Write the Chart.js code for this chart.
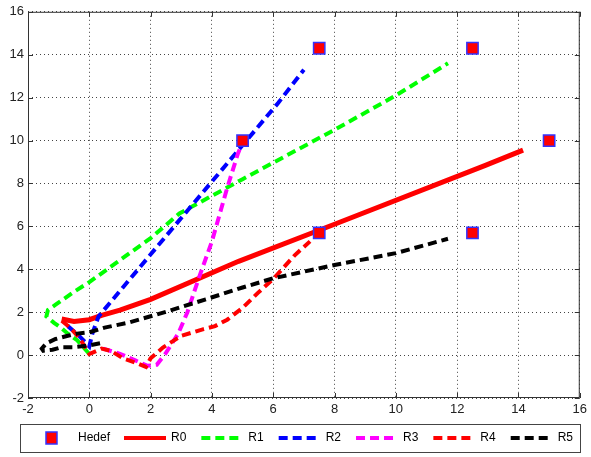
<!DOCTYPE html>
<html>
<head>
<meta charset="utf-8">
<script src="https://cdn.jsdelivr.net/npm/chart.js@4.4.1/dist/chart.umd.min.js"></script>
<style>
  html, body { margin: 0; padding: 0; background: #fff; }
</style>
</head>
<body>
<canvas id="chart" width="591" height="457"></canvas>
<script>
// axis ticks
const xTicks = [-2, 0, 2, 4, 6, 8, 10, 12, 14, 16];
const yTicks = [-2, 0, 2, 4, 6, 8, 10, 12, 14, 16];

// target points (Hedef)
const hedefX = [5, 7.5, 12.5, 7.5, 12.5, 15];
const hedefY = [10, 14.3, 14.3, 5.7, 5.7, 10];

// robot paths
const r0X = [-0.9, -0.5, 0, 0.4, 1, 2, 4.87, 8, 12.9, 14.15];
const r0Y = [1.68, 1.57, 1.65, 1.85, 2.1, 2.6, 4.37, 6.1, 8.83, 9.55];

const r1X = [0, -0.4, -0.7, -0.9, -1.15, -1.4, -1.35, -1.1, -0.5, 0, 2, 2.94, 5, 8, 10, 11.7];
const r1Y = [0.05, 0.7, 1.0, 1.25, 1.5, 1.8, 2.1, 2.35, 2.95, 3.4, 5.45, 6.6, 8.2, 10.5, 12.1, 13.6];

const r2X = [-0.7, -0.3, 0, 0.1, 0.3, 2.94, 6.16, 7.0];
const r2Y = [1.35, 0.85, 0.4, 1.0, 1.8, 6.29, 11.75, 13.3];

const r3X = [0.45, 1.0, 1.5, 1.9, 2.2, 2.5, 2.9, 3.2, 3.6, 4.0, 4.5, 4.85, 5.0];
const r3Y = [0.3, 0.06, -0.25, -0.5, -0.45, 0.1, 1.0, 2.0, 3.7, 5.3, 7.8, 9.4, 9.9];

const r4X = [-0.9, -0.6, -0.3, 0, 0.4, 0.7, 1.1, 1.6, 1.85, 2.0, 2.4, 3.0, 3.7, 4.1, 4.5, 5.0, 5.5, 6.0, 6.7, 7.2];
const r4Y = [1.6, 1.25, 0.75, 0.05, 0.3, 0.2, -0.15, -0.4, -0.55, -0.15, 0.35, 0.9, 1.2, 1.35, 1.65, 2.2, 2.9, 3.55, 4.65, 5.3];

const r5X = [0.35, 0, -0.5, -0.9, -1.2, -1.5, -1.55, -1.4, -1.1, -0.7, -0.4, 0, 0.5, 1.3, 2.6, 3.8, 5.0, 6.0, 8.0, 10, 11.7];
const r5Y = [0.55, 0.45, 0.37, 0.37, 0.25, 0.2, 0.3, 0.55, 0.75, 0.9, 1.0, 1.06, 1.28, 1.52, 2.06, 2.6, 3.15, 3.58, 4.2, 4.75, 5.42];

const pts = (xs, ys) => xs.map((x, i) => ({ x: x, y: ys[i] }));
const dash = [9, 5];

function path(label, xs, ys, color, dashed, order) {
  return {
    label: label,
    data: pts(xs, ys),
    showLine: true,
    borderColor: color,
    backgroundColor: color,
    borderWidth: dashed ? 4 : 5,
    borderDash: dashed ? dash : [],
    pointRadius: 0,
    tension: 0,
    order: order
  };
}

const datasets = [
  {
    label: 'Hedef',
    data: pts(hedefX, hedefY),
    showLine: false,
    pointStyle: 'rect',
    pointRadius: 8,
    backgroundColor: '#ff0000',
    borderColor: '#3333ff',
    borderWidth: 1.5,
    order: 0
  },
  path('R0', r0X, r0Y, '#ff0000', false, 6),
  path('R1', r1X, r1Y, '#00ff00', true, 5),
  path('R2', r2X, r2Y, '#0000ff', true, 4),
  path('R3', r3X, r3Y, '#ff00ff', true, 3),
  path('R4', r4X, r4Y, '#ff0000', true, 2),
  path('R5', r5X, r5Y, '#000000', true, 1)
];

const FAMILY = '"Liberation Sans", Arial, sans-serif';

// frame, inward tick marks and the boxed legend (matlab style)
const framePlugin = {
  id: 'frame',
  afterDraw(chart) {
    const ctx = chart.ctx;
    const a = chart.chartArea;
    const xs = chart.scales.x, ys = chart.scales.y;
    ctx.save();
    ctx.strokeStyle = '#333';
    ctx.lineWidth = 1;
    ctx.setLineDash([]);
    ctx.strokeRect(a.left + 0.5, a.top + 0.5, a.right - a.left - 1, a.bottom - a.top - 1);
    ctx.beginPath();
    xTicks.forEach(v => {
      const px = Math.round(xs.getPixelForValue(v)) + 0.5;
      ctx.moveTo(px, a.bottom); ctx.lineTo(px, a.bottom - 5);
      ctx.moveTo(px, a.top); ctx.lineTo(px, a.top + 5);
    });
    yTicks.forEach(v => {
      const py = Math.round(ys.getPixelForValue(v)) + 0.5;
      ctx.moveTo(a.left, py); ctx.lineTo(a.left + 5, py);
      ctx.moveTo(a.right, py); ctx.lineTo(a.right - 5, py);
    });
    ctx.stroke();

    // legend
    const top = 424, bottom = 452, mid = (top + bottom) / 2;
    ctx.fillStyle = '#fff';
    ctx.fillRect(20, top, 560, bottom - top);
    ctx.strokeStyle = '#444';
    ctx.strokeRect(20.5, top + 0.5, 560, bottom - top);
    ctx.font = '12px ' + FAMILY;
    ctx.textBaseline = 'middle';

    const h = chart.data.datasets[0];
    ctx.fillStyle = h.backgroundColor;
    ctx.fillRect(46, mid - 6, 11, 12);
    ctx.strokeStyle = h.borderColor;
    ctx.lineWidth = 1.5;
    ctx.strokeRect(46, mid - 6, 11, 12);
    ctx.fillStyle = '#000';
    ctx.fillText(h.label, 78, mid);

    let x = 124;
    chart.data.datasets.slice(1).forEach(d => {
      ctx.beginPath();
      ctx.strokeStyle = d.borderColor;
      ctx.lineWidth = 4;
      ctx.setLineDash(d.borderDash);
      ctx.moveTo(x, mid); ctx.lineTo(x + 42, mid);
      ctx.stroke();
      ctx.setLineDash([]);
      ctx.fillStyle = '#000';
      ctx.fillText(d.label, x + 47, mid);
      x += 47 + ctx.measureText(d.label).width + 15;
    });
    ctx.restore();
  }
};

new Chart(document.getElementById('chart'), {
  type: 'scatter',
  data: { datasets: datasets },
  options: {
    responsive: false,
    animation: false,
    layout: { padding: { top: 9, right: 5, left: 0, bottom: 0 } },
    plugins: {
      legend: { display: false },
      tooltip: { enabled: false },
      title: { display: false }
    },
    scales: {
      x: {
        type: 'linear',
        min: -2, max: 16,
        afterBuildTicks: s => { s.ticks = xTicks.map(v => ({ value: v })); },
        afterFit: s => { s.height = 59; },
        grid: { color: '#444', drawTicks: false },
        border: { display: false, dash: [1, 3] },
        ticks: { color: '#222', font: { family: FAMILY, size: 13 }, padding: 4, maxRotation: 0 }
      },
      y: {
        type: 'linear',
        min: -2, max: 16,
        afterBuildTicks: s => { s.ticks = yTicks.map(v => ({ value: v })); },
        afterFit: s => { s.width = 28; },
        grid: { color: '#444', drawTicks: false },
        border: { display: false, dash: [1, 3] },
        ticks: { color: '#222', font: { family: FAMILY, size: 13 }, padding: 4 }
      }
    }
  },
  plugins: [framePlugin]
});
</script>
</body>
</html>
